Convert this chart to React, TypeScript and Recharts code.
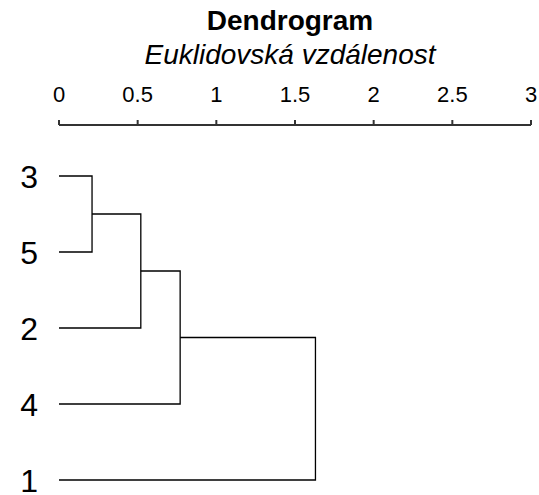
import React from "react";
import { ComposedChart, Scatter, XAxis, YAxis } from "recharts";

// leaves in display order (top to bottom)
const leaves = ["3", "5", "2", "4", "1"];
// merges: [left node, right node, distance]; leaves are "L<index>", clusters "N<index>"
const mergeLeft = ["L0", "N0", "N1", "N2"];
const mergeRight = ["L1", "L2", "L3", "L4"];
const mergeHeight = [0.21, 0.52, 0.77, 1.63];
const xTicks = [0, 0.5, 1, 1.5, 2, 2.5, 3];

type Pt = { x: number; y: number };

const buildLinks = () => {
  const pos: Record<string, Pt> = {};
  leaves.forEach((_, i) => {
    pos["L" + i] = { x: 0, y: i };
  });
  const links: Pt[][] = [];
  mergeHeight.forEach((h, i) => {
    const a = pos[mergeLeft[i]];
    const b = pos[mergeRight[i]];
    links.push([
      { x: a.x, y: a.y },
      { x: h, y: a.y },
      { x: h, y: b.y },
      { x: b.x, y: b.y },
    ]);
    pos["N" + i] = { x: h, y: (a.y + b.y) / 2 };
  });
  return links;
};

const links = buildLinks();
const font = "Arial, 'Liberation Sans', sans-serif";

const App = () => {
  return (
    <div style={{ position: "absolute", left: 0, top: 0 }}>
      <ComposedChart
        width={539}
        height={495}
        margin={{ top: 25, right: 8, bottom: 5, left: 0 }}
        style={{ fontFamily: font }}
      >
        <text x={290} y={30} textAnchor="middle" fontSize={28} fontWeight="bold" fill="#000">
          Dendrogram
        </text>
        <text x={290} y={64} textAnchor="middle" fontSize={28} fontStyle="italic" fill="#000">
          Euklidovská vzdálenost
        </text>
        <XAxis
          xAxisId="x"
          type="number"
          dataKey="x"
          orientation="top"
          domain={[0, 3]}
          ticks={xTicks}
          height={100}
          tickSize={5}
          tickMargin={18}
          axisLine={{ stroke: "#333", strokeWidth: 2 }}
          tickLine={{ stroke: "#333", strokeWidth: 2 }}
          tick={{ fontSize: 22, fill: "#000" }}
        />
        <YAxis
          yAxisId="y"
          type="number"
          dataKey="y"
          reversed
          domain={[0, leaves.length - 1]}
          ticks={leaves.map((_, i) => i)}
          tickFormatter={(v: number) => leaves[v]}
          width={59}
          padding={{ top: 51, bottom: 10 }}
          axisLine={false}
          tickLine={false}
          tickSize={6}
          tickMargin={15}
          tick={{ fontSize: 32, fill: "#000", dy: 1 }}
          interval={0}
        />
        {links.map((d, i) => (
          <Scatter
            key={i}
            xAxisId="x"
            yAxisId="y"
            data={d}
            line={{ stroke: "#000", strokeWidth: 1.3 }}
            shape={() => <g />}
            isAnimationActive={false}
          />
        ))}
      </ComposedChart>
    </div>
  );
};

export default App;
